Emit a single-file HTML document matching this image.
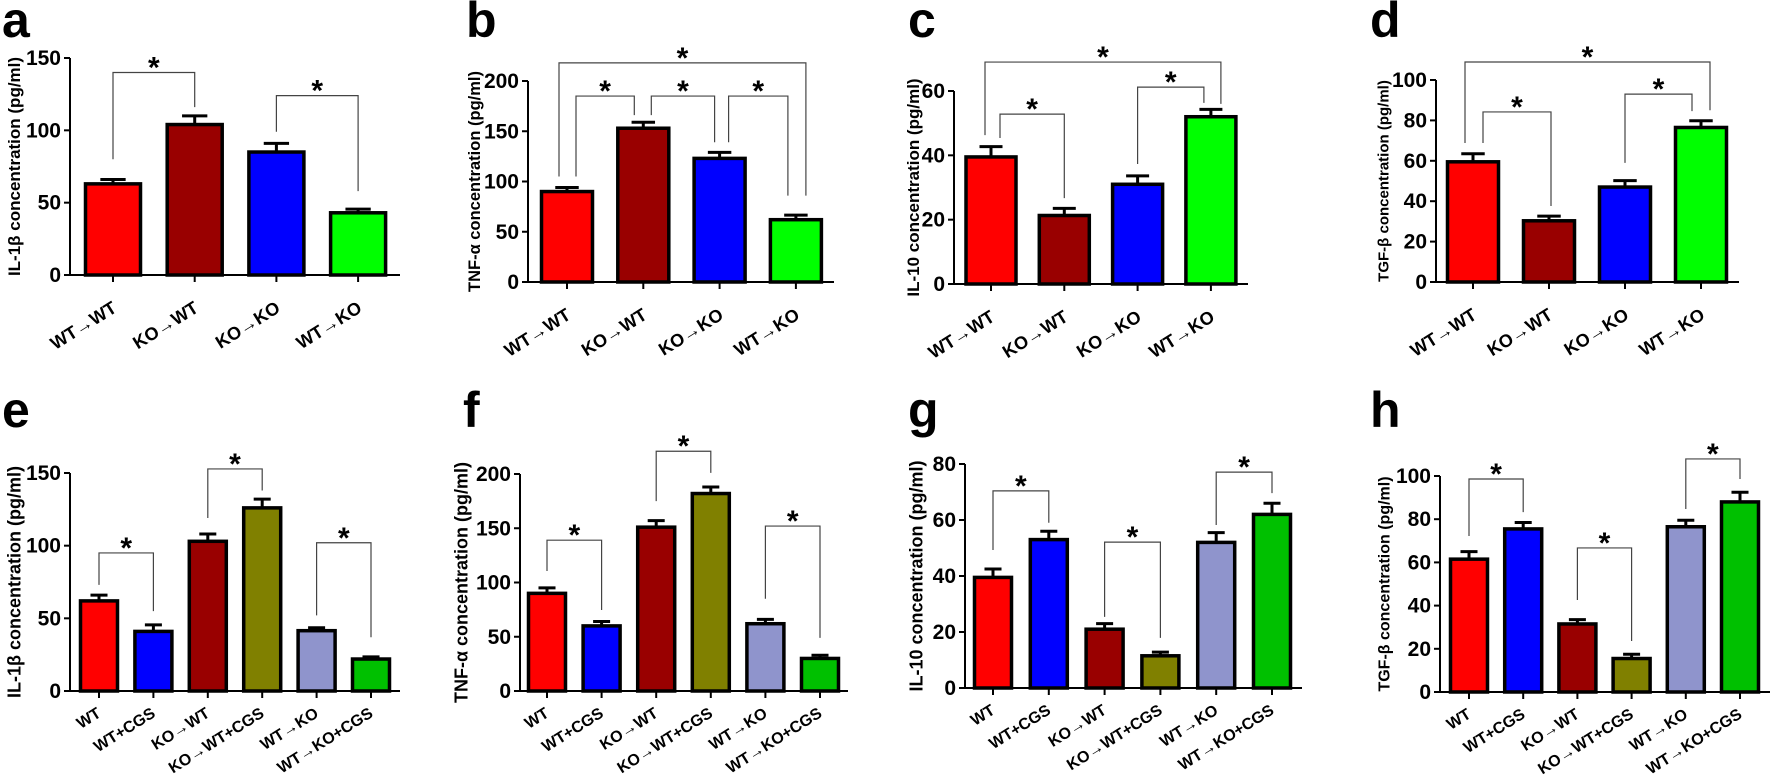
<!DOCTYPE html>
<html><head><meta charset="utf-8"><style>
html,body{margin:0;padding:0;background:#fff;}
svg{display:block;font-family:"Liberation Sans",Arial,sans-serif;}
</style></head><body>
<svg id="fig" width="1772" height="782" viewBox="0 0 1772 782" xmlns="http://www.w3.org/2000/svg"></svg>
<script>
// ---- data ----
const topCats = ["WT→WT","KO→WT","KO→KO","WT→KO"];
const botCats = ["WT","WT+CGS","KO→WT","KO→WT+CGS","WT→KO","WT→KO+CGS"];

const aValues = [63,104,85,43];       const aErrors = [3,6,6,2.5];
const bValues = [90,153,123,62];      const bErrors = [4,6,6,4.5];
const cValues = [39.5,21.3,31,52];    const cErrors = [3.2,2.2,2.6,2.3];
const dValues = [59.5,30.3,47,76.5];  const dErrors = [4,2.3,3.2,3.3];
const eValues = [62,41,103,126,41.5,22];   const eErrors = [4,4.5,5,6,2,1.5];
const fValues = [90,60,151,182,62,30];     const fErrors = [5,4,6,6,4,3];
const gValues = [39.5,53,21,11.5,52,62];   const gErrors = [3,3,2,1.3,3.5,4];
const hValues = [61.5,75.5,31.5,15.5,76.5,88]; const hErrors = [3.5,3,2,2,3,4.5];

const aTicks = [0,50,100,150];  const bTicks = [0,50,100,150,200];
const cTicks = [0,20,40,60];    const dTicks = [0,20,40,60,80,100];
const eTicks = [0,50,100,150];  const fTicks = [0,50,100,150,200];
const gTicks = [0,20,40,60,80]; const hTicks = [0,20,40,60,80,100];

// significance brackets: [barA, barB, topValue, leftLegEndValue, rightLegEndValue]
const aSig = [[0,1,140,80,116],[2,3,124,99,58]];
const bSig = [[0,3,218,105,86],[0,1,185,105,166],[1,2,185,166,139],[2,3,185,139,86]];
const cSig = [[0,3,69,46.3,56],[0,1,52.8,45.4,26.7],[2,3,61.2,37.3,56.3]];
const dSig = [[0,3,108.9,68.8,85],[0,1,84.2,68.8,37.6],[2,3,93,59,84.6]];
const eSig = [[0,1,95,73,55],[2,3,152.8,119,138],[4,5,102,52,37]];
const fSig = [[0,1,139,110.6,74.7],[2,3,221,175,201],[4,5,152,85,49]];
const gSig = [[0,1,70.4,49.3,59],[2,3,52.1,25.4,17.9],[4,5,77.1,58.2,69.6]];
const hSig = [[0,1,98.6,72.2,83.3],[2,3,66.7,42.6,23.6],[4,5,107.9,84.7,98.6]];

// ---- layout / style ----
const topColors = ["#ff0000","#990000","#0000ff","#00ff00"];
const botColors = ["#ff0000","#0000ff","#990000","#808000","#8f94cc","#00c000"];
const bDx = [[-8,10],[9,-9],[8,-5],[9,-8]];
const cDx = [[-6,10],[9,0],[0,-7]];
const dDx = [[-8,9],[10,2],[0,-9]];

const panels = [
 {id:"a",letter:[2,37],ax:70,xEnd:400,y0:275,yT:58,max:150,cx0:113,step:81.7,bw:55,cats:topCats,vals:aValues,errs:aErrors,ticks:aTicks,sig:aSig,colors:topColors,title:"IL-1β concentration (pg/ml)",tx:14,tfs:17,lfs:18,top:true},
 {id:"b",letter:[466,37],ax:528,xEnd:834,y0:282,yT:81,max:200,cx0:567,step:76.3,bw:51,cats:topCats,vals:bValues,errs:bErrors,ticks:bTicks,sig:bSig,dx:bDx,colors:topColors,title:"TNF-α concentration (pg/ml)",tx:474,tfs:16.5,lfs:18,top:true},
 {id:"c",letter:[908,37],ax:954,xEnd:1248,y0:284,yT:91,max:60,cx0:991,step:73.3,bw:50,cats:topCats,vals:cValues,errs:cErrors,ticks:cTicks,sig:cSig,dx:cDx,colors:topColors,title:"IL-10 concentration (pg/ml)",tx:913,tfs:17,lfs:18,top:true},
 {id:"d",letter:[1370,37],ax:1436,xEnd:1739,y0:282,yT:80,max:100,cx0:1473,step:76,bw:51,cats:topCats,vals:dValues,errs:dErrors,ticks:dTicks,sig:dSig,dx:dDx,colors:topColors,title:"TGF-β  concentration (pg/ml)",tx:1383,tfs:15,lfs:18,top:true},
 {id:"e",letter:[2,427],ax:70,xEnd:400,y0:691,yT:473,max:150,cx0:99,step:54.4,bw:37,cats:botCats,vals:eValues,errs:eErrors,ticks:eTicks,sig:eSig,colors:botColors,title:"IL-1β concentration (pg/ml)",tx:14,tfs:18,lfs:16,top:false},
 {id:"f",letter:[463,427],ax:520,xEnd:848,y0:691,yT:474,max:200,cx0:547,step:54.6,bw:37,cats:botCats,vals:fValues,errs:fErrors,ticks:fTicks,sig:fSig,colors:botColors,title:"TNF-α concentration (pg/ml)",tx:461,tfs:18,lfs:16,top:false},
 {id:"g",letter:[908,427],ax:965,xEnd:1302,y0:688,yT:464,max:80,cx0:993,step:55.8,bw:37,cats:botCats,vals:gValues,errs:gErrors,ticks:gTicks,sig:gSig,colors:botColors,title:"IL-10 concentration (pg/ml)",tx:916,tfs:18,lfs:16,top:false},
 {id:"h",letter:[1370,427],ax:1440,xEnd:1770,y0:692,yT:476,max:100,cx0:1469,step:54.2,bw:37,cats:botCats,vals:hValues,errs:hErrors,ticks:hTicks,sig:hSig,colors:botColors,title:"TGF-β  concentration (pg/ml)",tx:1384,tfs:16,lfs:16,top:false}
];

const NS="http://www.w3.org/2000/svg";
const svg=document.getElementById("fig");
function mk(tag,attrs,parent){const e=document.createElementNS(NS,tag);for(const k in attrs)e.setAttribute(k,attrs[k]);(parent||svg).appendChild(e);return e;}

panels.forEach(p=>{
  const g=mk("g",{});
  
  
  const y=v=>p.y0-(v/p.max)*(p.y0-p.yT);
  const x=i=>p.cx0+i*p.step;

  const L=mk("text",{x:p.letter[0],y:p.letter[1],"font-size":50,"font-weight":"bold",fill:"#000"},g);
  L.textContent=p.id;
  
  

  p.vals.forEach((v,i)=>{
    const e=p.errs[i], top=y(v);
    const el=mk("line",{x1:x(i),x2:x(i),y1:top,y2:y(v+e),stroke:"#000","stroke-width":3},g);
    
    
    const cap=mk("line",{x1:x(i)-p.bw*0.23,x2:x(i)+p.bw*0.23,y1:y(v+e),y2:y(v+e),stroke:"#000","stroke-width":3},g);
    
    
    const r=mk("rect",{x:x(i)-p.bw/2,y:top,width:p.bw,height:p.y0-top,fill:p.colors[i],stroke:"#000","stroke-width":3.5},g);
    
    
  });

  const ya=mk("line",{x1:p.ax,x2:p.ax,y1:p.yT,y2:p.y0,stroke:"#000","stroke-width":2},g);
  
  
  const xa=mk("line",{x1:p.ax-6,x2:p.xEnd,y1:p.y0,y2:p.y0,stroke:"#000","stroke-width":2},g);
  
  

  p.ticks.forEach(t=>{
    mk("line",{x1:p.ax-6,x2:p.ax,y1:y(t),y2:y(t),stroke:"#000","stroke-width":2},g);
    const tl=mk("text",{x:p.ax-9,y:y(t)+7,"text-anchor":"end","font-size":21,"font-weight":"bold",fill:"#000"},g);
    tl.textContent=t;
    
    
  });

  p.cats.forEach((c,i)=>{
    mk("line",{x1:x(i),x2:x(i),y1:p.y0,y2:p.y0+7,stroke:"#000","stroke-width":2},g);
    const lx=x(i)+(p.top?5:3), ly=p.y0+(p.top?36:25);
    const tl=mk("text",{x:lx,y:ly,"text-anchor":"end","font-size":p.lfs,"font-weight":"bold",fill:"#000",transform:`rotate(-32 ${lx} ${ly})`},g);
    tl.textContent=c;
    
    
  });

  const cy=(p.yT+p.y0)/2;
  const tt=mk("text",{x:p.tx,y:cy,"text-anchor":"middle","font-size":p.tfs,"font-weight":"bold",fill:"#000",transform:`rotate(-90 ${p.tx} ${cy})`,dy:"0.35em"},g);
  tt.textContent=p.title;
  
  

  p.sig.forEach((s,k)=>{
    const dx=p.dx?p.dx[k]:[0,0];
    const x1=x(s[0])+dx[0], x2=x(s[1])+dx[1], yt=y(s[2]);
    const pl=mk("polyline",{points:`${x1},${y(s[3])} ${x1},${yt} ${x2},${yt} ${x2},${y(s[4])}`,fill:"none",stroke:"#444","stroke-width":1.2},g);
    
    
    const st=mk("text",{x:(x1+x2)/2,y:yt+5,"text-anchor":"middle","font-size":30,"font-weight":"bold",fill:"#000"},g);
    st.textContent="*";
    
    
  });
});
</script>
</body></html>
